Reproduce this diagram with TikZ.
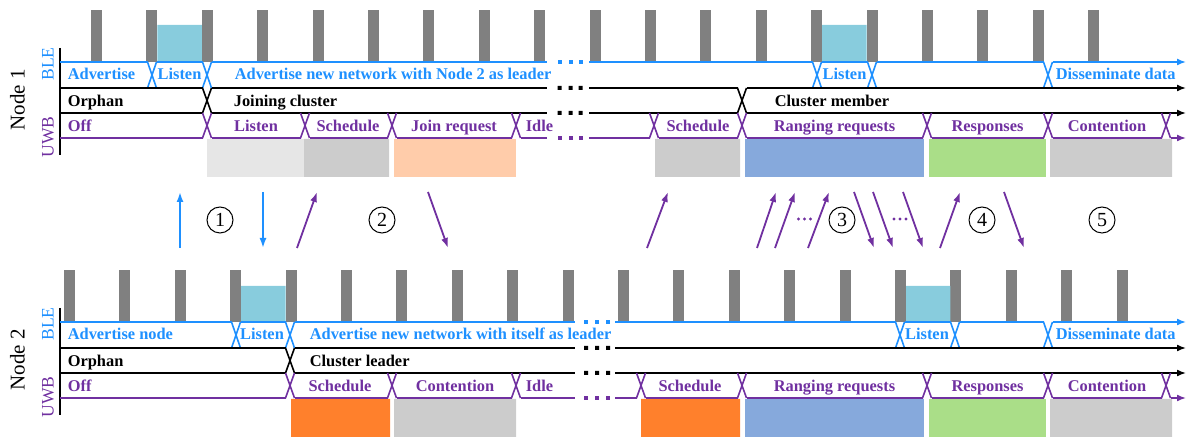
\documentclass[tikz,border=0pt]{standalone}
\usepackage[no-math]{fontspec}
\setmainfont{Liberation Serif}
\usetikzlibrary{arrows.meta}
\definecolor{bleblue}{RGB}{30,144,255}
\definecolor{uwbpurple}{RGB}{112,48,160}
\definecolor{slotgray}{RGB}{128,128,128}
\definecolor{listencyan}{RGB}{136,204,221}
\definecolor{idlegray}{RGB}{230,230,230}
\definecolor{schedgray}{RGB}{204,204,204}
\definecolor{joinpeach}{RGB}{255,204,170}
\definecolor{rangeblue}{RGB}{134,169,220}
\definecolor{respgreen}{RGB}{170,222,136}
\definecolor{schedorange}{RGB}{255,128,44}
\begin{document}
\begin{tikzpicture}[x=0.5pt,y=-0.5pt,line width=0.8pt,
            ble/.style={draw=bleblue},
            uwb/.style={draw=uwbpurple},
            tip/.style={-{Latex[length=4.5pt,width=3.5pt]}},
            msg/.style={line width=0.9pt,-{Latex[length=5pt,width=3.5pt]}},
            lbl/.style={font=\fontsize{8.2}{9}\selectfont\bfseries,inner sep=0pt},
            side/.style={rotate=90,inner sep=0pt,font=\fontsize{8.8}{10}\selectfont},
            num/.style={draw,circle,line width=0.5pt,minimum size=13pt,inner sep=0pt,font=\fontsize{10}{12}\selectfont}]
            \useasboundingbox (0,0) rectangle (1187,437);
            % Node 1
            \foreach \k in {0,...,18}
            \fill[slotgray] (91+55.4*\k,10) rectangle +(11,52);
            \fill[listencyan] (157.4,25) rectangle (201.8,62) (822.2,25) rectangle (866.6,62);
            \fill[idlegray] (207,139) rectangle (304,177);
            \fill[schedgray] (304,139) rectangle (389,177) (655,139) rectangle (740,177)
            (1050,139) rectangle (1172,177);
            \fill[joinpeach] (394,139) rectangle (516,177);
            \fill[rangeblue] (745,139) rectangle (924,177);
            \fill[respgreen] (929,139) rectangle (1046,177);
            \draw[line width=1pt] (60,48) -- (60,155);
            % BLE
            \foreach \a/\b in {60/147.5,156.5/202.5,211.5/547,589/812.5,821.5/867.5,876.5/1043.5}
            \draw[ble] (\a,62) -- (\b,62);
            \foreach \t in {152,207,817,872,1048}
            \draw[ble] (\t-4.5,62) -- (\t+4.5,88) (\t-4.5,88) -- (\t+4.5,62);
            \draw[ble,tip] (1052.5,62) -- (1186,62);
            % state
            \foreach \a/\b in {60/202.5,211.5/547,589/737.5}
            \draw (\a,88) -- (\b,88) (\a,113) -- (\b,113);
            \foreach \t in {207,742}
            \draw (\t-4.5,88) -- (\t+4.5,113) (\t-4.5,113) -- (\t+4.5,88);
            \draw[tip] (746.5,88) -- (1186,88);
            \draw[tip] (746.5,113) -- (1186,113);
            % UWB
            \foreach \a/\b in {60/202.5,211.5/300.5,309.5/387.5,396.5/511.5,520.5/547,589/649.5,658.5/737.5,746.5/922.5,931.5/1043.5,1052.5/1161.5}
            \draw[uwb] (\a,138) -- (\b,138);
            \foreach \t in {207,305,392,516,654,742,927,1048,1166}
            \draw[uwb] (\t-4.5,113) -- (\t+4.5,138) (\t-4.5,138) -- (\t+4.5,113);
            \draw[uwb,tip] (1170.5,138) -- (1186,138);
            \foreach \x in {559.5,570.5,580.5}{
            \fill[bleblue] (\x-2,60) rectangle +(4,4);
            \fill (\x-2,86) rectangle +(4,4) (\x-2,111) rectangle +(4,4);
            \fill[uwbpurple] (\x-2,136) rectangle +(4,4);}
            \node[lbl,text=bleblue,anchor=base west] (a1adv) at (67,80) {Advertise};
            \node[lbl,text=bleblue,anchor=base] (a1lis) at (179.5,80) {Listen};
            \node[lbl,text=bleblue,anchor=base west] (a1net) at (234,80) {Advertise new network with Node 2 as leader};
            \node[lbl,text=bleblue,anchor=base] (a1lis2) at (844.5,80) {Listen};
            \node[lbl,text=bleblue,anchor=base west] (a1data) at (1055,80) {Disseminate data};
            \node[lbl,anchor=base west] (a1orph) at (67,106.5) {Orphan};
            \node[lbl,anchor=base west] (a1join) at (233,106.5) {Joining cluster};
            \node[lbl,anchor=base west] (a1memb) at (774,106.5) {Cluster member};
            \node[lbl,text=uwbpurple,anchor=base west] (a1off) at (67,132) {Off};
            \node[lbl,text=uwbpurple,anchor=base west] (a1idle) at (525,132) {Idle};
            \foreach \x/\s [count=\i] in {256/Listen,348/Schedule,454/Join request,698/Schedule,834.5/Ranging requests,987.5/Responses,1107/Contention}
            \node[lbl,text=uwbpurple,anchor=base] (a1uwb\i) at (\x,132) {\s};
            \node[side,text=bleblue] (a1ble) at (48,64) {BLE};
            \node[side,text=uwbpurple] (a1radio) at (48,137) {UWB};
            \node[side,font=\fontsize{10.5}{12}\selectfont] (a1name) at (17.5,100) {Node 1};
            % Node 2
            \begin{scope}[shift={(0,260)}]
            \foreach \k in {0,...,19}
            \fill[slotgray] (64+55.4*\k,10) rectangle +(11,52);
            \fill[listencyan] (241.2,26) rectangle (285.6,62) (906,26) rectangle (950.4,62);
            \fill[schedorange] (291,139) rectangle (390,177) (641,139) rectangle (740,177);
            \fill[schedgray] (394,139) rectangle (516,177) (1050,139) rectangle (1172,177);
            \fill[rangeblue] (745,139) rectangle (924,177);
            \fill[respgreen] (929,139) rectangle (1046,177);
            \draw[line width=1pt] (60,48) -- (60,155);
            % BLE
            \foreach \a/\b in {60/231.5,240.5/285.5,294.5/575,615/895.5,904.5/950.5,959.5/1043.5}
            \draw[ble] (\a,62) -- (\b,62);
            \foreach \t in {236,290,900,955,1048}
            \draw[ble] (\t-4.5,62) -- (\t+4.5,88) (\t-4.5,88) -- (\t+4.5,62);
            \draw[ble,tip] (1052.5,62) -- (1186,62);
            % state
            \foreach \a/\b in {60/285.5,294.5/575}
            \draw (\a,88) -- (\b,88) (\a,113) -- (\b,113);
            \draw (285.5,88) -- (294.5,113) (285.5,113) -- (294.5,88);
            \draw[tip] (615,88) -- (1186,88);
            \draw[tip] (615,113) -- (1186,113);
            % UWB
            \foreach \a/\b in {60/285.5,294.5/387.5,396.5/511.5,520.5/575,615/636.5,645.5/737.5,746.5/922.5,931.5/1043.5,1052.5/1161.5}
            \draw[uwb] (\a,138) -- (\b,138);
            \foreach \t in {290,392,516,641,742,927,1048,1166}
            \draw[uwb] (\t-4.5,113) -- (\t+4.5,138) (\t-4.5,138) -- (\t+4.5,113);
            \draw[uwb,tip] (1170.5,138) -- (1186,138);
            \foreach \x in {586,597,608}{
            \fill[bleblue] (\x-2,60) rectangle +(4,4);
            \fill (\x-2,86) rectangle +(4,4) (\x-2,111) rectangle +(4,4);
            \fill[uwbpurple] (\x-2,136) rectangle +(4,4);}
            \node[lbl,text=bleblue,anchor=base west] (b1adv) at (67,80) {Advertise node};
            \node[lbl,text=bleblue,anchor=base] (b1lis) at (262,80) {Listen};
            \node[lbl,text=bleblue,anchor=base west] (b1net) at (309,80) {Advertise new network with itself as leader};
            \node[lbl,text=bleblue,anchor=base] (b1lis2) at (927,80) {Listen};
            \node[lbl,text=bleblue,anchor=base west] (b1data) at (1055,80) {Disseminate data};
            \node[lbl,anchor=base west] (b1orph) at (67,106.5) {Orphan};
            \node[lbl,anchor=base west] (b1lead) at (309,106.5) {Cluster leader};
            \node[lbl,text=uwbpurple,anchor=base west] (b1off) at (67,132) {Off};
            \node[lbl,text=uwbpurple,anchor=base west] (b1idle) at (525,132) {Idle};
            \foreach \x/\s [count=\i] in {340/Schedule,455/Contention,690/Schedule,834.5/Ranging requests,987.5/Responses,1107/Contention}
            \node[lbl,text=uwbpurple,anchor=base] (b1uwb\i) at (\x,132) {\s};
            \node[side,text=bleblue] (b1ble) at (48,64) {BLE};
            \node[side,text=uwbpurple] (b1radio) at (48,137) {UWB};
            \node[side,font=\fontsize{10.5}{12}\selectfont] (b1name) at (17.5,100) {Node 2};
            \end{scope}
            % messages
            \draw[bleblue,msg] (180,248) -- (180,192);
            \draw[bleblue,msg] (263,192) -- (263,248);
            \foreach \a/\b in {297/317,647/668,757/776,775/795,808/829,940/960}
            \draw[uwbpurple,msg] (\a,248) -- (\b,192);
            \foreach \a/\b in {428/448,854/874,873/893,903/923,1004/1024}
            \draw[uwbpurple,msg] (\a,192) -- (\b,248);
            \foreach \x in {798.5,804.5,810.5,894,900,906}
            \fill[uwbpurple] (\x,219) circle (1.6);
            \foreach \x/\n in {220/1,382/2,842/3,982/4,1102/5}
            \node[num] (step\n) at (\x,220) {\n};
\end{tikzpicture}
\end{document}
